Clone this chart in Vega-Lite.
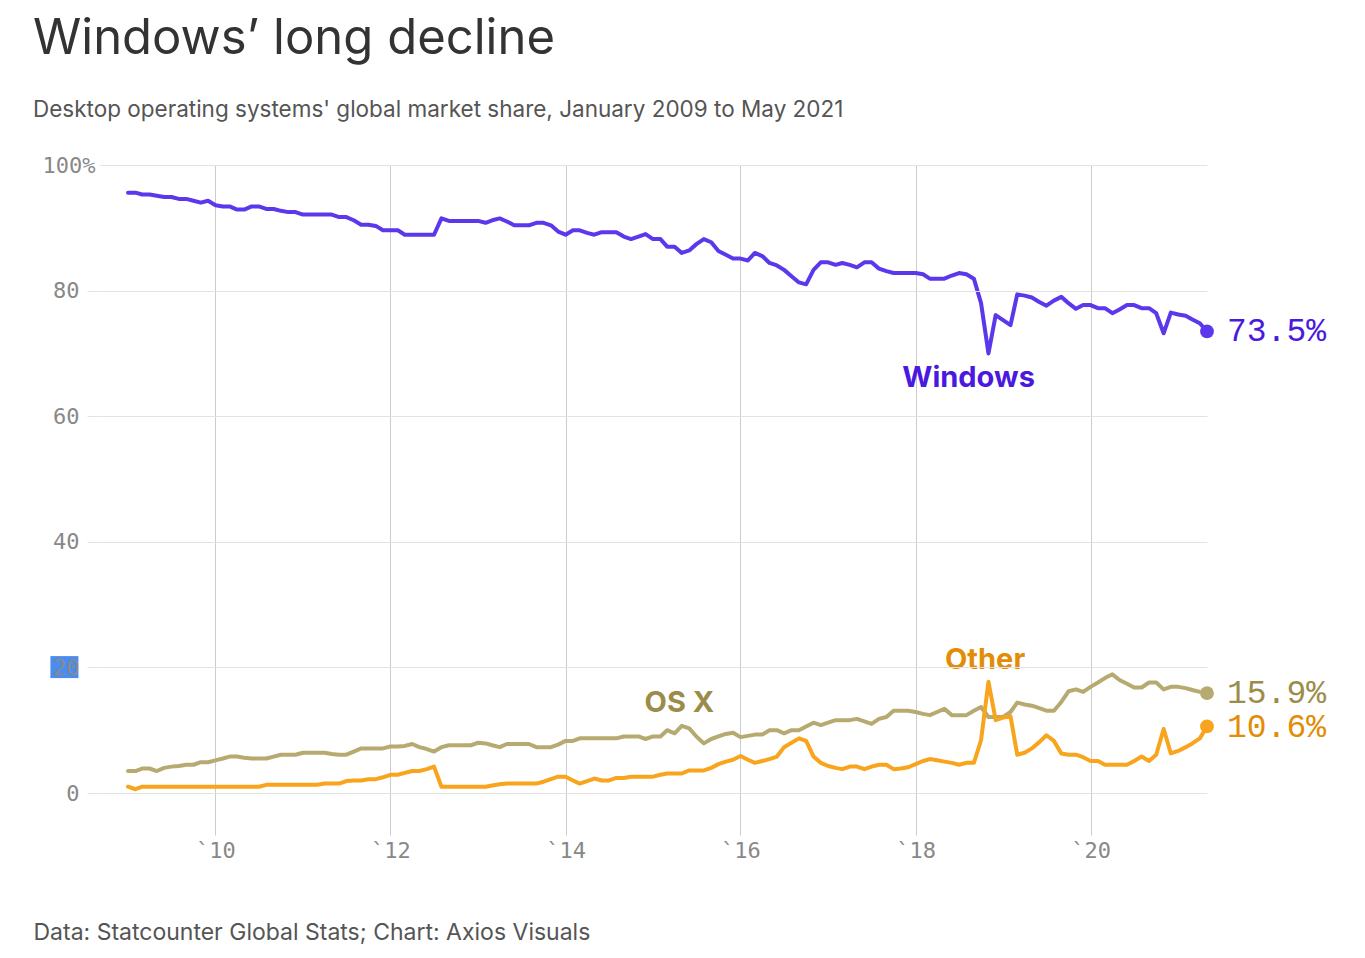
{
  "$schema": "https://vega.github.io/schema/vega-lite/v6.json",
  "width": 1107,
  "height": 628,
  "autosize": {"type": "none"},
  "padding": {"left": 100, "top": 165, "right": 158, "bottom": 165},
  "background": "white",
  "title": {
    "text": "Windows’ long decline",
    "subtitle": "Desktop operating systems' global market share, January 2009 to May 2021",
    "anchor": "start",
    "frame": "group",
    "dx": -67,
    "offset": 33,
    "font": "Inter",
    "fontSize": 49,
    "fontWeight": 400,
    "color": "#333333",
    "subtitleFont": "Inter",
    "subtitleFontSize": 22.5,
    "subtitleColor": "#555555",
    "subtitlePadding": 35
  },
  "config": {"view": {"stroke": null}},
  "datasets": {
    "series": [
      {"s":"Windows","d":"2009-01","v":95.6},{"s":"Windows","d":"2009-02","v":95.6},{"s":"Windows","d":"2009-03","v":95.3},{"s":"Windows","d":"2009-04","v":95.3},{"s":"Windows","d":"2009-05","v":95.1},{"s":"Windows","d":"2009-06","v":94.9},{"s":"Windows","d":"2009-07","v":94.9},{"s":"Windows","d":"2009-08","v":94.6},{"s":"Windows","d":"2009-09","v":94.6},{"s":"Windows","d":"2009-10","v":94.3},{"s":"Windows","d":"2009-11","v":94.0},{"s":"Windows","d":"2009-12","v":94.3},
      {"s":"Windows","d":"2010-01","v":93.6},{"s":"Windows","d":"2010-02","v":93.4},{"s":"Windows","d":"2010-03","v":93.4},{"s":"Windows","d":"2010-04","v":92.9},{"s":"Windows","d":"2010-05","v":92.9},{"s":"Windows","d":"2010-06","v":93.4},{"s":"Windows","d":"2010-07","v":93.4},{"s":"Windows","d":"2010-08","v":93.0},{"s":"Windows","d":"2010-09","v":93.0},{"s":"Windows","d":"2010-10","v":92.7},{"s":"Windows","d":"2010-11","v":92.5},{"s":"Windows","d":"2010-12","v":92.5},
      {"s":"Windows","d":"2011-01","v":92.1},{"s":"Windows","d":"2011-02","v":92.1},{"s":"Windows","d":"2011-03","v":92.1},{"s":"Windows","d":"2011-04","v":92.1},{"s":"Windows","d":"2011-05","v":92.1},{"s":"Windows","d":"2011-06","v":91.7},{"s":"Windows","d":"2011-07","v":91.7},{"s":"Windows","d":"2011-08","v":91.2},{"s":"Windows","d":"2011-09","v":90.5},{"s":"Windows","d":"2011-10","v":90.5},{"s":"Windows","d":"2011-11","v":90.3},{"s":"Windows","d":"2011-12","v":89.6},
      {"s":"Windows","d":"2012-01","v":89.6},{"s":"Windows","d":"2012-02","v":89.6},{"s":"Windows","d":"2012-03","v":88.9},{"s":"Windows","d":"2012-04","v":88.9},{"s":"Windows","d":"2012-05","v":88.9},{"s":"Windows","d":"2012-06","v":88.9},{"s":"Windows","d":"2012-07","v":88.9},{"s":"Windows","d":"2012-08","v":91.5},{"s":"Windows","d":"2012-09","v":91.1},{"s":"Windows","d":"2012-10","v":91.1},{"s":"Windows","d":"2012-11","v":91.1},{"s":"Windows","d":"2012-12","v":91.1},
      {"s":"Windows","d":"2013-01","v":91.1},{"s":"Windows","d":"2013-02","v":90.8},{"s":"Windows","d":"2013-03","v":91.2},{"s":"Windows","d":"2013-04","v":91.5},{"s":"Windows","d":"2013-05","v":91.0},{"s":"Windows","d":"2013-06","v":90.4},{"s":"Windows","d":"2013-07","v":90.4},{"s":"Windows","d":"2013-08","v":90.4},{"s":"Windows","d":"2013-09","v":90.8},{"s":"Windows","d":"2013-10","v":90.8},{"s":"Windows","d":"2013-11","v":90.4},{"s":"Windows","d":"2013-12","v":89.4},
      {"s":"Windows","d":"2014-01","v":88.9},{"s":"Windows","d":"2014-02","v":89.6},{"s":"Windows","d":"2014-03","v":89.6},{"s":"Windows","d":"2014-04","v":89.2},{"s":"Windows","d":"2014-05","v":88.9},{"s":"Windows","d":"2014-06","v":89.3},{"s":"Windows","d":"2014-07","v":89.3},{"s":"Windows","d":"2014-08","v":89.3},{"s":"Windows","d":"2014-09","v":88.6},{"s":"Windows","d":"2014-10","v":88.2},{"s":"Windows","d":"2014-11","v":88.6},{"s":"Windows","d":"2014-12","v":89.0},
      {"s":"Windows","d":"2015-01","v":88.2},{"s":"Windows","d":"2015-02","v":88.2},{"s":"Windows","d":"2015-03","v":87.0},{"s":"Windows","d":"2015-04","v":87.0},{"s":"Windows","d":"2015-05","v":86.0},{"s":"Windows","d":"2015-06","v":86.4},{"s":"Windows","d":"2015-07","v":87.4},{"s":"Windows","d":"2015-08","v":88.2},{"s":"Windows","d":"2015-09","v":87.7},{"s":"Windows","d":"2015-10","v":86.3},{"s":"Windows","d":"2015-11","v":85.7},{"s":"Windows","d":"2015-12","v":85.1},
      {"s":"Windows","d":"2016-01","v":85.1},{"s":"Windows","d":"2016-02","v":84.8},{"s":"Windows","d":"2016-03","v":86.0},{"s":"Windows","d":"2016-04","v":85.5},{"s":"Windows","d":"2016-05","v":84.4},{"s":"Windows","d":"2016-06","v":84.0},{"s":"Windows","d":"2016-07","v":83.3},{"s":"Windows","d":"2016-08","v":82.3},{"s":"Windows","d":"2016-09","v":81.3},{"s":"Windows","d":"2016-10","v":81.0},{"s":"Windows","d":"2016-11","v":83.3},{"s":"Windows","d":"2016-12","v":84.5},
      {"s":"Windows","d":"2017-01","v":84.5},{"s":"Windows","d":"2017-02","v":84.1},{"s":"Windows","d":"2017-03","v":84.4},{"s":"Windows","d":"2017-04","v":84.1},{"s":"Windows","d":"2017-05","v":83.7},{"s":"Windows","d":"2017-06","v":84.5},{"s":"Windows","d":"2017-07","v":84.5},{"s":"Windows","d":"2017-08","v":83.5},{"s":"Windows","d":"2017-09","v":83.1},{"s":"Windows","d":"2017-10","v":82.8},{"s":"Windows","d":"2017-11","v":82.8},{"s":"Windows","d":"2017-12","v":82.8},
      {"s":"Windows","d":"2018-01","v":82.8},{"s":"Windows","d":"2018-02","v":82.6},{"s":"Windows","d":"2018-03","v":81.9},{"s":"Windows","d":"2018-04","v":81.9},{"s":"Windows","d":"2018-05","v":81.9},{"s":"Windows","d":"2018-06","v":82.4},{"s":"Windows","d":"2018-07","v":82.8},{"s":"Windows","d":"2018-08","v":82.6},{"s":"Windows","d":"2018-09","v":81.9},{"s":"Windows","d":"2018-10","v":78.0},{"s":"Windows","d":"2018-11","v":70.0},{"s":"Windows","d":"2018-12","v":76.1},
      {"s":"Windows","d":"2019-01","v":75.3},{"s":"Windows","d":"2019-02","v":74.5},{"s":"Windows","d":"2019-03","v":79.4},{"s":"Windows","d":"2019-04","v":79.2},{"s":"Windows","d":"2019-05","v":78.9},{"s":"Windows","d":"2019-06","v":78.2},{"s":"Windows","d":"2019-07","v":77.6},{"s":"Windows","d":"2019-08","v":78.4},{"s":"Windows","d":"2019-09","v":79.0},{"s":"Windows","d":"2019-10","v":78.0},{"s":"Windows","d":"2019-11","v":77.1},{"s":"Windows","d":"2019-12","v":77.7},
      {"s":"Windows","d":"2020-01","v":77.7},{"s":"Windows","d":"2020-02","v":77.2},{"s":"Windows","d":"2020-03","v":77.2},{"s":"Windows","d":"2020-04","v":76.4},{"s":"Windows","d":"2020-05","v":77.0},{"s":"Windows","d":"2020-06","v":77.7},{"s":"Windows","d":"2020-07","v":77.7},{"s":"Windows","d":"2020-08","v":77.2},{"s":"Windows","d":"2020-09","v":77.2},{"s":"Windows","d":"2020-10","v":76.4},{"s":"Windows","d":"2020-11","v":73.2},{"s":"Windows","d":"2020-12","v":76.5},
      {"s":"Windows","d":"2021-01","v":76.2},{"s":"Windows","d":"2021-02","v":76.0},{"s":"Windows","d":"2021-03","v":75.4},{"s":"Windows","d":"2021-04","v":74.8},{"s":"Windows","d":"2021-05","v":73.5},

      {"s":"OS X","d":"2009-01","v":3.5},{"s":"OS X","d":"2009-02","v":3.5},{"s":"OS X","d":"2009-03","v":3.9},{"s":"OS X","d":"2009-04","v":3.9},{"s":"OS X","d":"2009-05","v":3.5},{"s":"OS X","d":"2009-06","v":4.0},{"s":"OS X","d":"2009-07","v":4.2},{"s":"OS X","d":"2009-08","v":4.3},{"s":"OS X","d":"2009-09","v":4.5},{"s":"OS X","d":"2009-10","v":4.5},{"s":"OS X","d":"2009-11","v":4.9},{"s":"OS X","d":"2009-12","v":4.9},
      {"s":"OS X","d":"2010-01","v":5.2},{"s":"OS X","d":"2010-02","v":5.5},{"s":"OS X","d":"2010-03","v":5.8},{"s":"OS X","d":"2010-04","v":5.8},{"s":"OS X","d":"2010-05","v":5.6},{"s":"OS X","d":"2010-06","v":5.5},{"s":"OS X","d":"2010-07","v":5.5},{"s":"OS X","d":"2010-08","v":5.5},{"s":"OS X","d":"2010-09","v":5.8},{"s":"OS X","d":"2010-10","v":6.1},{"s":"OS X","d":"2010-11","v":6.1},{"s":"OS X","d":"2010-12","v":6.1},
      {"s":"OS X","d":"2011-01","v":6.4},{"s":"OS X","d":"2011-02","v":6.4},{"s":"OS X","d":"2011-03","v":6.4},{"s":"OS X","d":"2011-04","v":6.4},{"s":"OS X","d":"2011-05","v":6.2},{"s":"OS X","d":"2011-06","v":6.1},{"s":"OS X","d":"2011-07","v":6.1},{"s":"OS X","d":"2011-08","v":6.6},{"s":"OS X","d":"2011-09","v":7.1},{"s":"OS X","d":"2011-10","v":7.1},{"s":"OS X","d":"2011-11","v":7.1},{"s":"OS X","d":"2011-12","v":7.1},
      {"s":"OS X","d":"2012-01","v":7.4},{"s":"OS X","d":"2012-02","v":7.4},{"s":"OS X","d":"2012-03","v":7.5},{"s":"OS X","d":"2012-04","v":7.8},{"s":"OS X","d":"2012-05","v":7.3},{"s":"OS X","d":"2012-06","v":7.0},{"s":"OS X","d":"2012-07","v":6.6},{"s":"OS X","d":"2012-08","v":7.3},{"s":"OS X","d":"2012-09","v":7.6},{"s":"OS X","d":"2012-10","v":7.6},{"s":"OS X","d":"2012-11","v":7.6},{"s":"OS X","d":"2012-12","v":7.6},
      {"s":"OS X","d":"2013-01","v":8.0},{"s":"OS X","d":"2013-02","v":7.9},{"s":"OS X","d":"2013-03","v":7.6},{"s":"OS X","d":"2013-04","v":7.3},{"s":"OS X","d":"2013-05","v":7.8},{"s":"OS X","d":"2013-06","v":7.8},{"s":"OS X","d":"2013-07","v":7.8},{"s":"OS X","d":"2013-08","v":7.8},{"s":"OS X","d":"2013-09","v":7.3},{"s":"OS X","d":"2013-10","v":7.3},{"s":"OS X","d":"2013-11","v":7.3},{"s":"OS X","d":"2013-12","v":7.7},
      {"s":"OS X","d":"2014-01","v":8.3},{"s":"OS X","d":"2014-02","v":8.3},{"s":"OS X","d":"2014-03","v":8.7},{"s":"OS X","d":"2014-04","v":8.7},{"s":"OS X","d":"2014-05","v":8.7},{"s":"OS X","d":"2014-06","v":8.7},{"s":"OS X","d":"2014-07","v":8.7},{"s":"OS X","d":"2014-08","v":8.7},{"s":"OS X","d":"2014-09","v":9.0},{"s":"OS X","d":"2014-10","v":9.0},{"s":"OS X","d":"2014-11","v":9.0},{"s":"OS X","d":"2014-12","v":8.6},
      {"s":"OS X","d":"2015-01","v":9.0},{"s":"OS X","d":"2015-02","v":9.0},{"s":"OS X","d":"2015-03","v":10.0},{"s":"OS X","d":"2015-04","v":9.5},{"s":"OS X","d":"2015-05","v":10.7},{"s":"OS X","d":"2015-06","v":10.3},{"s":"OS X","d":"2015-07","v":9.0},{"s":"OS X","d":"2015-08","v":7.9},{"s":"OS X","d":"2015-09","v":8.6},{"s":"OS X","d":"2015-10","v":9.0},{"s":"OS X","d":"2015-11","v":9.4},{"s":"OS X","d":"2015-12","v":9.6},
      {"s":"OS X","d":"2016-01","v":8.9},{"s":"OS X","d":"2016-02","v":9.1},{"s":"OS X","d":"2016-03","v":9.3},{"s":"OS X","d":"2016-04","v":9.3},{"s":"OS X","d":"2016-05","v":10.0},{"s":"OS X","d":"2016-06","v":10.0},{"s":"OS X","d":"2016-07","v":9.5},{"s":"OS X","d":"2016-08","v":10.0},{"s":"OS X","d":"2016-09","v":10.0},{"s":"OS X","d":"2016-10","v":10.6},{"s":"OS X","d":"2016-11","v":11.2},{"s":"OS X","d":"2016-12","v":10.8},
      {"s":"OS X","d":"2017-01","v":11.2},{"s":"OS X","d":"2017-02","v":11.6},{"s":"OS X","d":"2017-03","v":11.6},{"s":"OS X","d":"2017-04","v":11.6},{"s":"OS X","d":"2017-05","v":11.8},{"s":"OS X","d":"2017-06","v":11.4},{"s":"OS X","d":"2017-07","v":11.0},{"s":"OS X","d":"2017-08","v":11.8},{"s":"OS X","d":"2017-09","v":12.1},{"s":"OS X","d":"2017-10","v":13.1},{"s":"OS X","d":"2017-11","v":13.1},{"s":"OS X","d":"2017-12","v":13.1},
      {"s":"OS X","d":"2018-01","v":12.9},{"s":"OS X","d":"2018-02","v":12.6},{"s":"OS X","d":"2018-03","v":12.4},{"s":"OS X","d":"2018-04","v":12.9},{"s":"OS X","d":"2018-05","v":13.4},{"s":"OS X","d":"2018-06","v":12.4},{"s":"OS X","d":"2018-07","v":12.4},{"s":"OS X","d":"2018-08","v":12.4},{"s":"OS X","d":"2018-09","v":13.1},{"s":"OS X","d":"2018-10","v":13.7},{"s":"OS X","d":"2018-11","v":12.1},{"s":"OS X","d":"2018-12","v":12.1},
      {"s":"OS X","d":"2019-01","v":12.1},{"s":"OS X","d":"2019-02","v":12.9},{"s":"OS X","d":"2019-03","v":14.4},{"s":"OS X","d":"2019-04","v":14.1},{"s":"OS X","d":"2019-05","v":13.9},{"s":"OS X","d":"2019-06","v":13.5},{"s":"OS X","d":"2019-07","v":13.1},{"s":"OS X","d":"2019-08","v":13.1},{"s":"OS X","d":"2019-09","v":14.5},{"s":"OS X","d":"2019-10","v":16.2},{"s":"OS X","d":"2019-11","v":16.5},{"s":"OS X","d":"2019-12","v":16.1},
      {"s":"OS X","d":"2020-01","v":16.9},{"s":"OS X","d":"2020-02","v":17.6},{"s":"OS X","d":"2020-03","v":18.3},{"s":"OS X","d":"2020-04","v":18.9},{"s":"OS X","d":"2020-05","v":18.0},{"s":"OS X","d":"2020-06","v":17.4},{"s":"OS X","d":"2020-07","v":16.8},{"s":"OS X","d":"2020-08","v":16.8},{"s":"OS X","d":"2020-09","v":17.6},{"s":"OS X","d":"2020-10","v":17.6},{"s":"OS X","d":"2020-11","v":16.5},{"s":"OS X","d":"2020-12","v":16.9},
      {"s":"OS X","d":"2021-01","v":16.9},{"s":"OS X","d":"2021-02","v":16.7},{"s":"OS X","d":"2021-03","v":16.4},{"s":"OS X","d":"2021-04","v":16.1},{"s":"OS X","d":"2021-05","v":15.9},

      {"s":"Other","d":"2009-01","v":1.0},{"s":"Other","d":"2009-02","v":0.6},{"s":"Other","d":"2009-03","v":1.0},{"s":"Other","d":"2009-04","v":1.0},{"s":"Other","d":"2009-05","v":1.0},{"s":"Other","d":"2009-06","v":1.0},{"s":"Other","d":"2009-07","v":1.0},{"s":"Other","d":"2009-08","v":1.0},{"s":"Other","d":"2009-09","v":1.0},{"s":"Other","d":"2009-10","v":1.0},{"s":"Other","d":"2009-11","v":1.0},{"s":"Other","d":"2009-12","v":1.0},
      {"s":"Other","d":"2010-01","v":1.0},{"s":"Other","d":"2010-02","v":1.0},{"s":"Other","d":"2010-03","v":1.0},{"s":"Other","d":"2010-04","v":1.0},{"s":"Other","d":"2010-05","v":1.0},{"s":"Other","d":"2010-06","v":1.0},{"s":"Other","d":"2010-07","v":1.0},{"s":"Other","d":"2010-08","v":1.3},{"s":"Other","d":"2010-09","v":1.3},{"s":"Other","d":"2010-10","v":1.3},{"s":"Other","d":"2010-11","v":1.3},{"s":"Other","d":"2010-12","v":1.3},
      {"s":"Other","d":"2011-01","v":1.3},{"s":"Other","d":"2011-02","v":1.3},{"s":"Other","d":"2011-03","v":1.3},{"s":"Other","d":"2011-04","v":1.5},{"s":"Other","d":"2011-05","v":1.5},{"s":"Other","d":"2011-06","v":1.5},{"s":"Other","d":"2011-07","v":1.9},{"s":"Other","d":"2011-08","v":2.0},{"s":"Other","d":"2011-09","v":2.0},{"s":"Other","d":"2011-10","v":2.2},{"s":"Other","d":"2011-11","v":2.2},{"s":"Other","d":"2011-12","v":2.5},
      {"s":"Other","d":"2012-01","v":2.9},{"s":"Other","d":"2012-02","v":2.9},{"s":"Other","d":"2012-03","v":3.2},{"s":"Other","d":"2012-04","v":3.5},{"s":"Other","d":"2012-05","v":3.5},{"s":"Other","d":"2012-06","v":3.8},{"s":"Other","d":"2012-07","v":4.2},{"s":"Other","d":"2012-08","v":1.0},{"s":"Other","d":"2012-09","v":1.0},{"s":"Other","d":"2012-10","v":1.0},{"s":"Other","d":"2012-11","v":1.0},{"s":"Other","d":"2012-12","v":1.0},
      {"s":"Other","d":"2013-01","v":1.0},{"s":"Other","d":"2013-02","v":1.0},{"s":"Other","d":"2013-03","v":1.2},{"s":"Other","d":"2013-04","v":1.4},{"s":"Other","d":"2013-05","v":1.5},{"s":"Other","d":"2013-06","v":1.5},{"s":"Other","d":"2013-07","v":1.5},{"s":"Other","d":"2013-08","v":1.5},{"s":"Other","d":"2013-09","v":1.5},{"s":"Other","d":"2013-10","v":1.8},{"s":"Other","d":"2013-11","v":2.2},{"s":"Other","d":"2013-12","v":2.6},
      {"s":"Other","d":"2014-01","v":2.6},{"s":"Other","d":"2014-02","v":2.0},{"s":"Other","d":"2014-03","v":1.5},{"s":"Other","d":"2014-04","v":1.9},{"s":"Other","d":"2014-05","v":2.3},{"s":"Other","d":"2014-06","v":2.0},{"s":"Other","d":"2014-07","v":2.0},{"s":"Other","d":"2014-08","v":2.4},{"s":"Other","d":"2014-09","v":2.4},{"s":"Other","d":"2014-10","v":2.6},{"s":"Other","d":"2014-11","v":2.6},{"s":"Other","d":"2014-12","v":2.6},
      {"s":"Other","d":"2015-01","v":2.6},{"s":"Other","d":"2015-02","v":2.9},{"s":"Other","d":"2015-03","v":3.1},{"s":"Other","d":"2015-04","v":3.1},{"s":"Other","d":"2015-05","v":3.1},{"s":"Other","d":"2015-06","v":3.6},{"s":"Other","d":"2015-07","v":3.6},{"s":"Other","d":"2015-08","v":3.6},{"s":"Other","d":"2015-09","v":4.0},{"s":"Other","d":"2015-10","v":4.6},{"s":"Other","d":"2015-11","v":5.0},{"s":"Other","d":"2015-12","v":5.3},
      {"s":"Other","d":"2016-01","v":5.9},{"s":"Other","d":"2016-02","v":5.3},{"s":"Other","d":"2016-03","v":4.8},{"s":"Other","d":"2016-04","v":5.1},{"s":"Other","d":"2016-05","v":5.4},{"s":"Other","d":"2016-06","v":5.8},{"s":"Other","d":"2016-07","v":7.3},{"s":"Other","d":"2016-08","v":8.0},{"s":"Other","d":"2016-09","v":8.7},{"s":"Other","d":"2016-10","v":8.3},{"s":"Other","d":"2016-11","v":5.8},{"s":"Other","d":"2016-12","v":4.8},
      {"s":"Other","d":"2017-01","v":4.3},{"s":"Other","d":"2017-02","v":4.0},{"s":"Other","d":"2017-03","v":3.8},{"s":"Other","d":"2017-04","v":4.2},{"s":"Other","d":"2017-05","v":4.2},{"s":"Other","d":"2017-06","v":3.8},{"s":"Other","d":"2017-07","v":4.2},{"s":"Other","d":"2017-08","v":4.5},{"s":"Other","d":"2017-09","v":4.5},{"s":"Other","d":"2017-10","v":3.8},{"s":"Other","d":"2017-11","v":3.9},{"s":"Other","d":"2017-12","v":4.1},
      {"s":"Other","d":"2018-01","v":4.6},{"s":"Other","d":"2018-02","v":5.1},{"s":"Other","d":"2018-03","v":5.4},{"s":"Other","d":"2018-04","v":5.2},{"s":"Other","d":"2018-05","v":5.0},{"s":"Other","d":"2018-06","v":4.8},{"s":"Other","d":"2018-07","v":4.5},{"s":"Other","d":"2018-08","v":4.8},{"s":"Other","d":"2018-09","v":4.8},{"s":"Other","d":"2018-10","v":8.4},{"s":"Other","d":"2018-11","v":17.7},{"s":"Other","d":"2018-12","v":11.6},
      {"s":"Other","d":"2019-01","v":12.0},{"s":"Other","d":"2019-02","v":12.2},{"s":"Other","d":"2019-03","v":6.1},{"s":"Other","d":"2019-04","v":6.4},{"s":"Other","d":"2019-05","v":7.1},{"s":"Other","d":"2019-06","v":8.1},{"s":"Other","d":"2019-07","v":9.2},{"s":"Other","d":"2019-08","v":8.3},{"s":"Other","d":"2019-09","v":6.3},{"s":"Other","d":"2019-10","v":6.1},{"s":"Other","d":"2019-11","v":6.1},{"s":"Other","d":"2019-12","v":5.7},
      {"s":"Other","d":"2020-01","v":5.1},{"s":"Other","d":"2020-02","v":5.1},{"s":"Other","d":"2020-03","v":4.5},{"s":"Other","d":"2020-04","v":4.5},{"s":"Other","d":"2020-05","v":4.5},{"s":"Other","d":"2020-06","v":4.5},{"s":"Other","d":"2020-07","v":5.1},{"s":"Other","d":"2020-08","v":5.8},{"s":"Other","d":"2020-09","v":5.1},{"s":"Other","d":"2020-10","v":6.1},{"s":"Other","d":"2020-11","v":10.2},{"s":"Other","d":"2020-12","v":6.3},
      {"s":"Other","d":"2021-01","v":6.7},{"s":"Other","d":"2021-02","v":7.3},{"s":"Other","d":"2021-03","v":7.9},{"s":"Other","d":"2021-04","v":8.7},{"s":"Other","d":"2021-05","v":10.6}
    ],
    "notes": [
      {"s":"Windows","d":"2018-08-10","v":66.1,"t":"Windows","k":"name"},
      {"s":"OS X","d":"2015-04-21","v":14.3,"t":"OS X","k":"name"},
      {"s":"Other","d":"2018-10-18","v":21.2,"t":"Other","k":"name"},
      {"s":"Windows","d":"2021-05-01","v":73.5,"t":"73.5%","k":"end"},
      {"s":"OS X","d":"2021-05-01","v":16.0,"t":"15.9%","k":"end"},
      {"s":"Other","d":"2021-05-01","v":10.5,"t":"10.6%","k":"end"}
    ],
    "highlight": [
      {"d":"2008-02-12","d2":"2008-06-08","v":18.3,"v2":21.8}
    ]
  },
  "encoding": {
    "x": {
      "field": "d",
      "type": "temporal",
      "scale": {"domain": [{"year": 2008, "month": 9, "date": 6}, {"year": 2021, "month": 5, "date": 1}], "nice": false},
      "axis": {
        "values": [{"year": 2010, "month": 1, "date": 1}, {"year": 2012, "month": 1, "date": 1}, {"year": 2014, "month": 1, "date": 1}, {"year": 2016, "month": 1, "date": 1}, {"year": 2018, "month": 1, "date": 1}, {"year": 2020, "month": 1, "date": 1}],
        "labelExpr": "'`' + timeFormat(datum.value, '%y')",
        "labelFont": "DejaVu Sans Mono",
        "labelFontSize": 22,
        "labelColor": "#888888",
        "labelPadding": 5,
        "domain": false,
        "grid": true,
        "gridColor": "#cccccc",
        "tickColor": "#cccccc",
        "tickSize": 42,
        "title": "Data: Statcounter Global Stats; Chart: Axios Visuals",
        "titleFont": "Inter",
        "titleFontSize": 23,
        "titleFontWeight": 400,
        "titleColor": "#555555",
        "titleAnchor": "start",
        "titleAlign": "left",
        "titleBaseline": "alphabetic",
        "titleX": -67,
        "titleY": 146
      }
    },
    "y": {
      "field": "v",
      "type": "quantitative",
      "scale": {"domain": [0, 100], "nice": false},
      "axis": {
        "values": [0, 20, 40, 60, 80, 100],
        "labelExpr": "datum.value == 100 ? '100%' : datum.label",
        "labelFont": "DejaVu Sans Mono",
        "labelFontSize": 22,
        "labelColor": "#888888",
        "domain": false,
        "grid": true,
        "gridColor": "#e2e2e2",
        "tickColor": "#e2e2e2",
        "tickSize": {"condition": {"test": "datum.value == 100", "value": 0}, "value": 13},
        "labelPadding": {"condition": {"test": "datum.value == 100", "value": 5}, "value": 8},
        "title": null,
        "zindex": 1
      }
    }
  },
  "layer": [
    {
      "data": {"name": "highlight", "format": {"parse": {"d": "date", "d2": "date"}}},
      "mark": {"type": "rect", "color": "#4a8cf0", "clip": false},
      "encoding": {
        "x2": {"field": "d2"},
        "y2": {"field": "v2"}
      }
    },
    {
      "data": {"name": "series", "format": {"parse": {"d": "date"}}},
      "mark": {"type": "line", "strokeWidth": 4, "strokeJoin": "round", "strokeCap": "round"},
      "encoding": {
        "color": {"field": "s", "type": "nominal", "scale": {"domain": ["Windows", "OS X", "Other"], "range": ["#5c38ec", "#b7aa70", "#f8a41c"]}, "legend": null}
      }
    },
    {
      "data": {"name": "series", "format": {"parse": {"d": "date"}}},
      "transform": [{"filter": {"timeUnit": "yearmonth", "field": "d", "equal": {"year": 2021, "month": 5}}}],
      "mark": {"type": "circle", "size": 190, "opacity": 1},
      "encoding": {
        "color": {"field": "s", "type": "nominal", "scale": {"domain": ["Windows", "OS X", "Other"], "range": ["#5c38ec", "#b7aa70", "#f8a41c"]}, "legend": null}
      }
    },
    {
      "data": {"name": "notes", "format": {"parse": {"d": "date"}}},
      "transform": [{"filter": "datum.k == 'name'"}],
      "mark": {"type": "text", "font": "Inter", "fontSize": 29, "fontWeight": 700, "align": "center", "baseline": "middle"},
      "encoding": {
        "text": {"field": "t"},
        "color": {"condition": [{"test": "datum.s == 'Windows'", "value": "#4a18de"}, {"test": "datum.s == 'OS X'", "value": "#9b8d49"}], "value": "#e38c05"}
      }
    },
    {
      "data": {"name": "notes", "format": {"parse": {"d": "date"}}},
      "transform": [{"filter": "datum.k == 'end'"}],
      "mark": {"type": "text", "font": "Liberation Mono", "fontSize": 33, "align": "left", "baseline": "middle", "dx": 20},
      "encoding": {
        "text": {"field": "t"},
        "color": {"condition": [{"test": "datum.s == 'Windows'", "value": "#4a18de"}, {"test": "datum.s == 'OS X'", "value": "#9b8d49"}], "value": "#e38c05"}
      }
    }
  ]
}
